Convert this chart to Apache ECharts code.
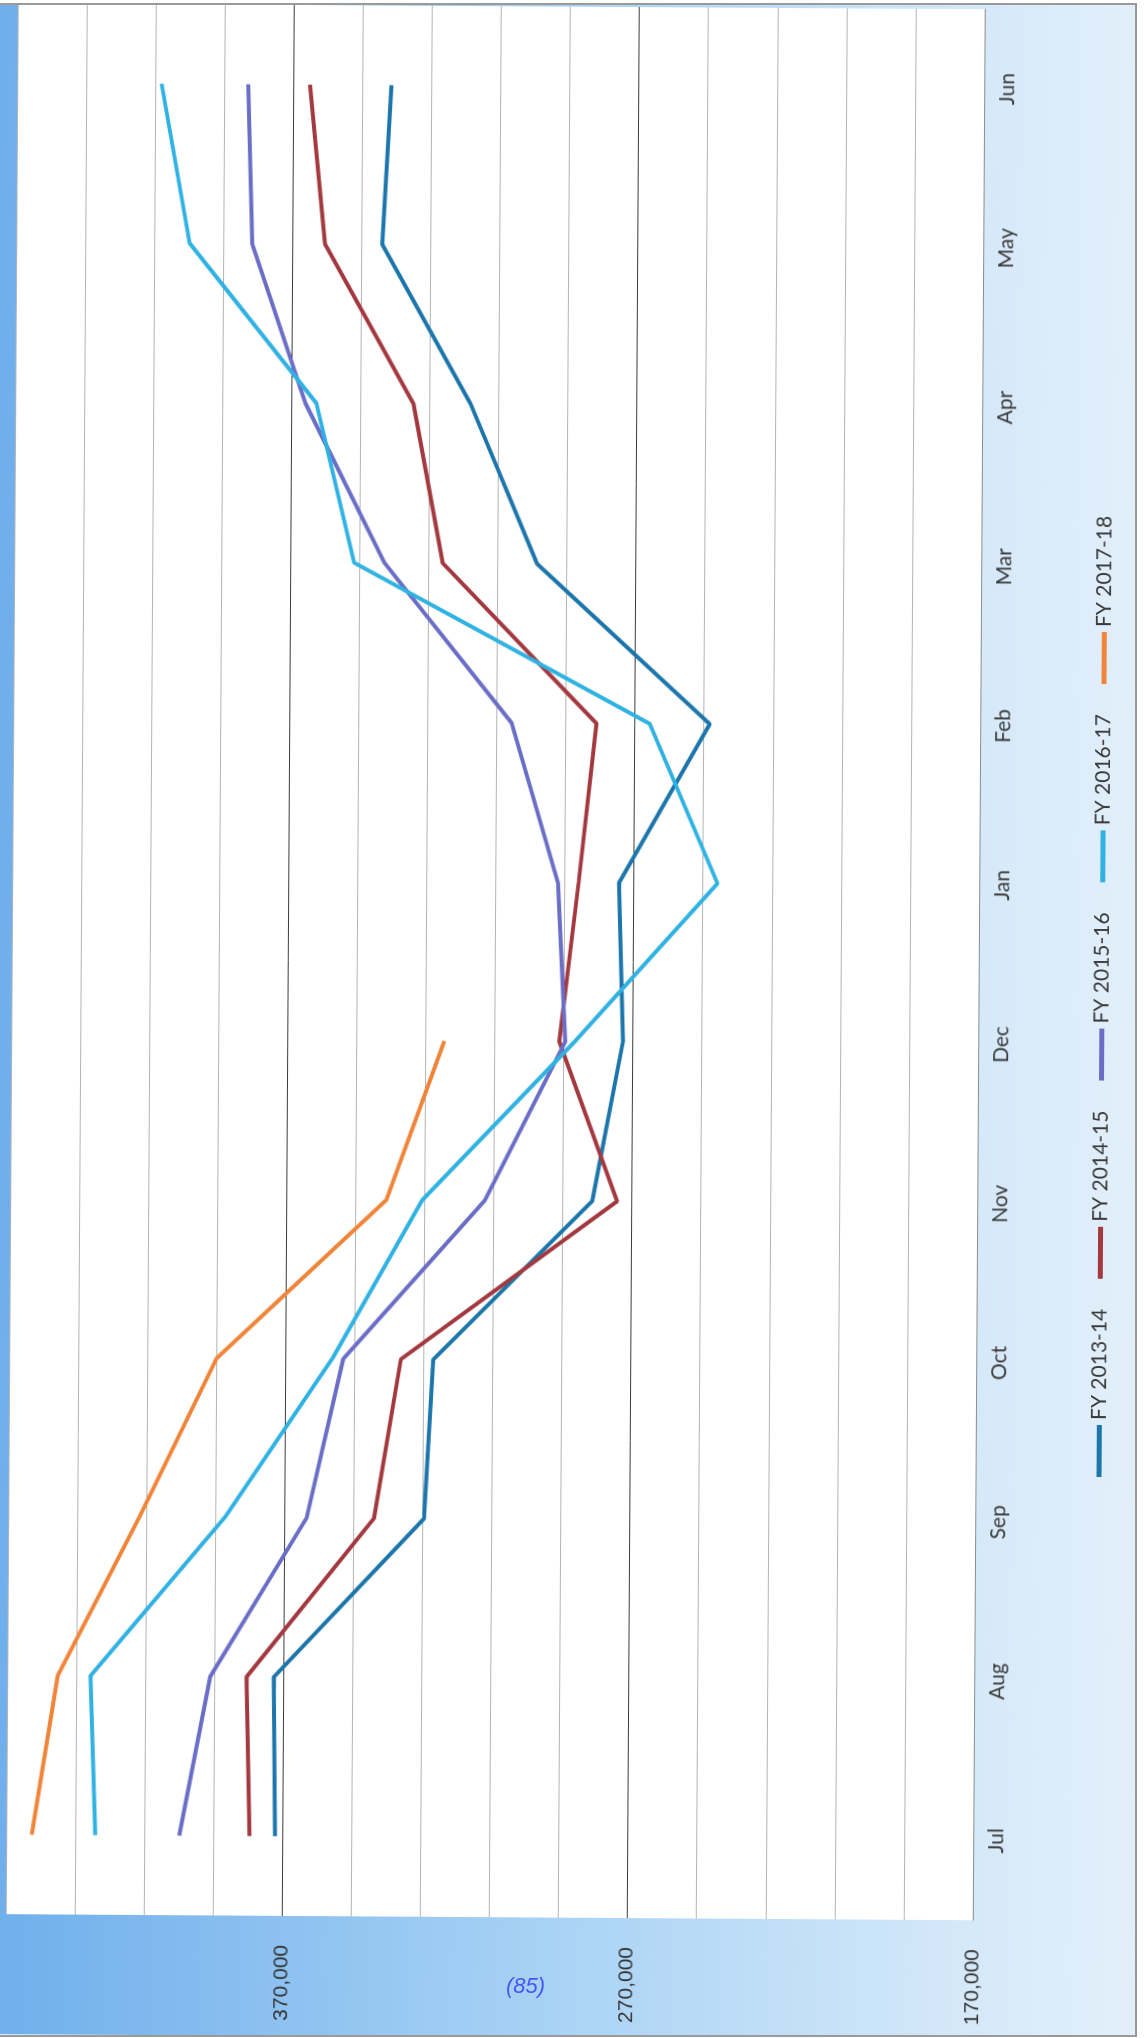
<!DOCTYPE html>
<html>
<head>
<meta charset="utf-8">
<title>FY monthly trend</title>
<script src="https://cdn.jsdelivr.net/npm/echarts/dist/echarts.min.js"></script>
<style>
  html, body { margin: 0; padding: 0; background: #fff; }
  body { width: 1144px; height: 2038px; position: relative; overflow: hidden; }
  /* page frame (scan edge) */
  #frame {
    position: absolute; left: 0; top: 3px;
    width: 1135px; height: 2030px;
    border-top: 2px solid #9a9a9a; border-right: 2px solid #9a9a9a; border-bottom: 2px solid #9a9a9a;
    overflow: hidden;
  }
  /* chart is drawn landscape, then turned to read bottom-to-top */
  #chart {
    position: absolute; left: 0; top: 0;
    width: 2040px; height: 1170px;
    transform-origin: 0 0;
    transform: translate(-20px, 2029px) rotate(-90deg) rotate(0.36deg);
  }
  #pageno {
    position: absolute; left: 506px; top: 1973px;
    font: italic 22px "Liberation Sans", Arial, sans-serif;
    color: #4656f5;
  }
</style>
</head>
<body>
<div id="frame"><div id="chart"></div></div>
<div id="pageno">(85)</div>
<script>
// 月份
var months = ['Jul', 'Aug', 'Sep', 'Oct', 'Nov', 'Dec', 'Jan', 'Feb', 'Mar', 'Apr', 'May', 'Jun'];
var seriesNames = ['FY 2013-14', 'FY 2014-15', 'FY 2015-16', 'FY 2016-17', 'FY 2017-18'];

// 各财年数据
var fy1314 = [372200, 372800, 329600, 327200, 281500, 272900, 274300, 248300, 298600, 318100, 344000, 341600];
var fy1415 = [379600, 380700, 344100, 336600, 274300, 291300, 286000, 281100, 325900, 334700, 360600, 365200];
var fy1516 = [399900, 391200, 363600, 353300, 312600, 289600, 292000, 305700, 342800, 366000, 381700, 383100];
var fy1617 = [424200, 425900, 387300, 356500, 330700, 286900, 245800, 265700, 351600, 362800, 399800, 408200];
var fy1718 = [442600, 435400, 412000, 389900, 341100, 324600, null, null, null, null, null, null];

var lineColors = ['#1c76ab', '#a3393f', '#6a6ec6', '#30b2e2', '#f0853a'];

var chart = echarts.init(document.getElementById('chart'));

function makeSeries(name, data, color) {
    return {
        name: name,
        type: 'line',
        data: data,
        symbol: 'none',
        connectNulls: false,
        lineStyle: { color: color, width: 4 },
        itemStyle: { color: color }
    };
}

var option = {
    animation: false,
    backgroundColor: new echarts.graphic.LinearGradient(0, 0, 0, 1, [
        { offset: 0, color: '#6eaeeb' },
        { offset: 0.5, color: '#aad3f5' },
        { offset: 0.85, color: '#d6e9f9' },
        { offset: 1, color: '#e4f0fb' }
    ]),
    grid: {
        left: 120, right: 9, top: 25, bottom: 178,
        show: true, backgroundColor: '#ffffff', borderWidth: 0
    },
    legend: {
        left: 559, top: 1100,
        itemWidth: 52, itemHeight: 5, itemGap: 30,
        icon: 'rect',
        textStyle: { fontFamily: 'Lato', fontSize: 21, color: '#3a3a3a' },
        data: seriesNames
    },
    xAxis: {
        type: 'category',
        data: months,
        boundaryGap: true,
        axisLine: { show: true, lineStyle: { color: '#8c8c8c', width: 1 } },
        axisTick: { show: false },
        axisLabel: { margin: 13, fontFamily: 'Lato', fontSize: 21, color: '#3a3a3a' },
        splitLine: { show: false }
    },
    yAxis: {
        type: 'value',
        min: 170000, max: 450000, interval: 20000,
        axisLine: { show: false },
        axisTick: { show: false },
        axisLabel: {
            margin: 29,
            fontFamily: 'Liberation Sans', fontSize: 21, color: '#333333',
            formatter: function (v) {
                // 只显示 170,000 / 270,000 / 370,000
                if ((v - 170000) % 100000 !== 0) return '';
                return v.toLocaleString('en-US');
            }
        },
        splitLine: {
            show: true,
            showMinLine: false,
            lineStyle: {
                // 从 190,000 开始计数，270,000 / 370,000 为深色
                color: ['#b4b4b4', '#b4b4b4', '#b4b4b4', '#b4b4b4', '#3c3c3c'],
                width: 1
            }
        }
    },
    series: [
        makeSeries(seriesNames[0], fy1314, lineColors[0]),
        makeSeries(seriesNames[1], fy1415, lineColors[1]),
        makeSeries(seriesNames[2], fy1516, lineColors[2]),
        makeSeries(seriesNames[3], fy1617, lineColors[3]),
        makeSeries(seriesNames[4], fy1718, lineColors[4])
    ]
};

chart.setOption(option);
</script>
</body>
</html>
